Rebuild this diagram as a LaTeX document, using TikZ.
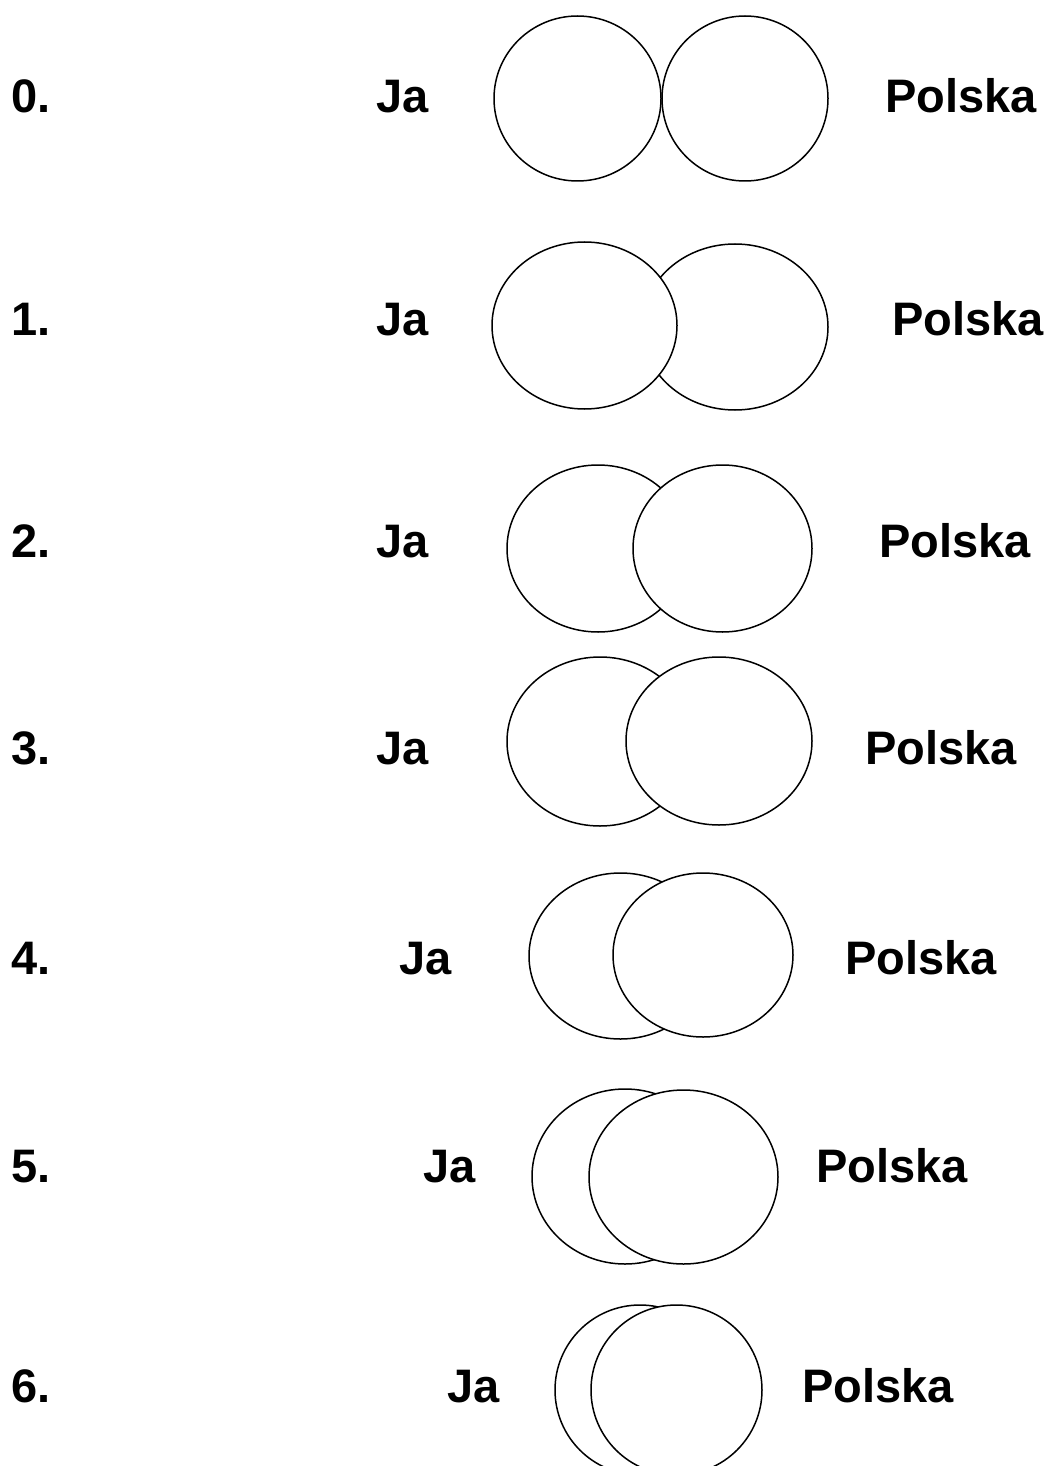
\documentclass[tikz,border=0pt]{standalone}
\usepackage{fontspec}
\setmainfont{Liberation Sans}
\usetikzlibrary{shapes.geometric}

\begin{document}
\begin{tikzpicture}[
        x=0.5pt, y=-0.5pt,
        set/.style={ellipse, draw=black, fill=white, line width=0.75pt, inner sep=0pt},
        lbl/.style={anchor=base west, inner sep=0pt, font=\fontsize{23.5}{28}\selectfont\bfseries}
        ]
        \useasboundingbox (0,0) rectangle (1053,1466);

        % 0.
        \node[lbl] (num0) at (11,113) {0.};
        \node[lbl] (ja0) at (376,113) {Ja};
        \node[set, minimum width=83.5pt, minimum height=82.5pt] (setja0) at (577.5,98.5) {};
        \node[set, minimum width=83pt, minimum height=82.5pt] (setpl0) at (745,98.5) {};
        \node[lbl] (pl0) at (885,113) {Polska};

        % 1.
        \node[lbl] (num1) at (11,335) {1.};
        \node[lbl] (ja1) at (376,335) {Ja};
        \node[set, minimum width=93pt, minimum height=83pt] (setpl1) at (735,327) {};
        \node[set, minimum width=92.5pt, minimum height=83.5pt] (setja1) at (584.5,325.5) {};
        \node[lbl] (pl1) at (892,335) {Polska};

        % 2.
        \node[lbl] (num2) at (11,557) {2.};
        \node[lbl] (ja2) at (376,557) {Ja};
        \node[set, minimum width=91pt, minimum height=83.5pt] (setja2) at (598,548.5) {};
        \node[set, minimum width=89.5pt, minimum height=83.5pt] (setpl2) at (722.5,548.5) {};
        \node[lbl] (pl2) at (879,557) {Polska};

        % 3.
        \node[lbl] (num3) at (11,764) {3.};
        \node[lbl] (ja3) at (376,764) {Ja};
        \node[set, minimum width=93pt, minimum height=84.5pt] (setja3) at (600,741.5) {};
        \node[set, minimum width=93pt, minimum height=84pt] (setpl3) at (719,741) {};
        \node[lbl] (pl3) at (865,764) {Polska};

        % 4.
        \node[lbl] (num4) at (11,974) {4.};
        \node[lbl] (ja4) at (399,974) {Ja};
        \node[set, minimum width=91.5pt, minimum height=83pt] (setja4) at (620.5,956) {};
        \node[set, minimum width=90pt, minimum height=82pt] (setpl4) at (703,955) {};
        \node[lbl] (pl4) at (845,974) {Polska};

        % 5.
        \node[lbl] (num5) at (11,1182) {5.};
        \node[lbl] (ja5) at (423,1182) {Ja};
        \node[set, minimum width=93pt, minimum height=87.5pt] (setja5) at (625,1176.5) {};
        \node[set, minimum width=94.5pt, minimum height=87pt] (setpl5) at (683.5,1177) {};
        \node[lbl] (pl5) at (816,1182) {Polska};

        % 6.
        \node[lbl] (num6) at (11,1402) {6.};
        \node[lbl] (ja6) at (447,1402) {Ja};
        \node[set, minimum width=85pt, minimum height=85pt] (setja6) at (640,1390) {};
        \node[set, minimum width=85.5pt, minimum height=85pt] (setpl6) at (676.5,1390) {};
        \node[lbl] (pl6) at (802,1402) {Polska};
    \end{tikzpicture}
\end{document}
